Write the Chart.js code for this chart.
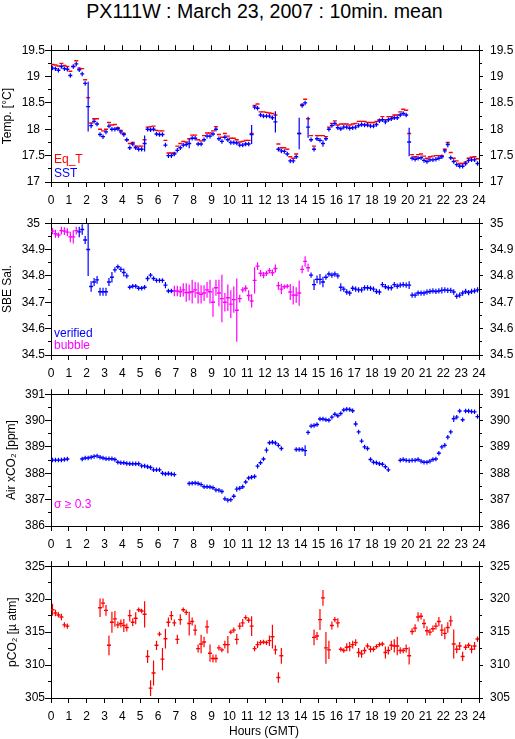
<!DOCTYPE html>
<html>
<head>
<meta charset="utf-8">
<script src="https://cdn.jsdelivr.net/npm/chart.js@4.4.0/dist/chart.umd.min.js"></script>
<style>
  body { margin: 0; background: #fff; width: 515px; height: 739px; position: relative; overflow: hidden;
         font-family: "Liberation Sans", Arial, sans-serif; }
  canvas { position: absolute; left: 0; }
  .txt { position: absolute; left: 0; white-space: nowrap; text-align: center; color: #000; }
</style>
</head>
<body>
<div class="txt" style="width:529px;top:2px;font-size:19.6px;line-height:19px;">PX111W : March 23, 2007 : 10min. mean</div>
<canvas id="cTemp" width="515" height="172" style="top:36px"></canvas>
<canvas id="cSal" width="515" height="172" style="top:209px"></canvas>
<canvas id="cAir" width="515" height="172" style="top:380px"></canvas>
<canvas id="cPco2" width="515" height="172" style="top:552px"></canvas>
<div class="txt" style="width:528px;top:725px;font-size:12px;line-height:12px;">Hours (GMT)</div>
<script>
// 10 minute means, point i covers hours i/6 .. (i+1)/6
const hours = Array.from({length: 144}, (_, i) => (i + 0.5) / 6);
const hourTicks = [0,1,2,3,4,5,6,7,8,9,10,11,12,13,14,15,16,17,18,19,20,21,22,23,24];

const tempTicks = [17, 17.5, 18, 18.5, 19, 19.5];
const salTicks = [34.5, 34.6, 34.7, 34.8, 34.9, 35];
const airTicks = [386, 387, 388, 389, 390, 391];
const pco2Ticks = [305, 310, 315, 320, 325];

const sst = [
  19.16,19.15,19.12,19.19,19.15,19.14, 19.02,19.19,19.24,19.13,19.05,18.87,
  18.43,18.07,18.15,18.10,17.90,17.86, 17.95,18.06,18.00,18.00,18.01,17.95,
  17.90,17.80,17.65,17.72,17.65,17.62, 17.62,17.73,18.00,17.99,18.00,17.91,
  17.90,17.90,17.70,17.50,17.50,17.53, 17.60,17.65,17.70,17.71,17.73,17.83,
  17.83,17.72,17.72,17.80,17.87,17.87, 17.91,18.00,17.82,17.77,17.85,17.80,
  17.75,17.75,17.74,17.70,17.70,17.72, 17.72,17.90,18.42,18.40,18.27,18.25,
  18.25,18.25,18.22,18.14,17.62,17.59, 17.58,17.53,17.40,17.40,17.48,17.92,
  18.45,18.50,18.04,17.80,17.62,17.82, 17.79,17.73,17.82,18.00,18.07,18.11,
  18.03,18.01,18.04,18.04,18.02,18.03, 18.04,18.07,18.09,18.08,18.08,18.06,
  18.06,18.09,18.16,18.18,18.14,18.18, 18.20,18.22,18.22,18.27,18.30,18.27,
  17.76,17.45,17.43,17.45,17.46,17.41, 17.39,17.42,17.42,17.43,17.45,17.48,
  17.59,17.71,17.46,17.39,17.33,17.30, 17.30,17.35,17.41,17.42,17.42,17.35
];
const sstErr = [
  0.015,0.02,0.02,0.015,0.02,0.015, 0.02,0.02,0.02,0.02,0.02,0.03,
  0.47,0.05,0.04,0.015,0.03,0.04, 0.015,0.03,0.015,0.015,0.015,0.015,
  0.03,0.04,0.015,0.015,0.015,0.015, 0.015,0.15,0.015,0.015,0.015,0.015,
  0.015,0.015,0.04,0.015,0.015,0.015, 0.015,0.015,0.015,0.015,0.09,0.015,
  0.015,0.015,0.03,0.03,0.015,0.015, 0.015,0.015,0.015,0.015,0.015,0.015,
  0.015,0.015,0.015,0.015,0.015,0.015, 0.015,0.18,0.03,0.03,0.015,0.015,
  0.015,0.015,0.015,0.2,0.015,0.015, 0.015,0.015,0.03,0.015,0.015,0.3,
  0.03,0.03,0.2,0.03,0.04,0.015, 0.015,0.06,0.015,0.015,0.015,0.015,
  0.015,0.015,0.015,0.015,0.015,0.015, 0.015,0.015,0.015,0.015,0.015,0.015,
  0.015,0.015,0.015,0.015,0.015,0.015, 0.015,0.015,0.015,0.015,0.015,0.015,
  0.27,0.015,0.015,0.015,0.015,0.015, 0.015,0.015,0.015,0.015,0.015,0.02,
  0.03,0.05,0.02,0.015,0.015,0.015, 0.015,0.015,0.015,0.015,0.015,0.04
];
const eqT = [
  19.23,19.22,19.20,19.25,19.21,19.19, 19.10,19.19,19.30,19.16,19.15,18.94,
  18.60,18.12,18.20,18.20,18.00,17.97, 18.00,18.13,18.08,18.09,18.03,17.98,
  17.92,17.80,17.73,17.75,17.68,17.68, 17.68,17.80,18.04,18.05,18.06,17.98,
  17.97,17.97,17.79,17.55,17.55,17.55, 17.68,17.73,17.77,17.76,17.82,17.89,
  17.89,17.80,17.78,17.88,17.93,17.93, 17.97,18.05,17.90,17.85,17.92,17.87,
  17.83,17.83,17.80,17.76,17.77,17.79, 17.79,17.92,18.45,18.48,18.33,18.33,
  18.32,18.31,18.30,18.27,17.72,17.65, 17.65,17.62,17.48,17.45,17.53,17.92,
  18.47,18.57,18.20,17.88,17.68,17.88, 17.88,17.88,17.86,18.04,18.11,18.16,
  18.08,18.10,18.10,18.10,18.08,18.10, 18.11,18.15,18.15,18.15,18.13,18.13,
  18.13,18.15,18.18,18.24,18.18,18.24, 18.24,18.27,18.27,18.33,18.38,18.36,
  17.92,17.52,17.48,17.52,17.53,17.49, 17.45,17.48,17.49,17.50,17.50,17.50,
  17.62,17.75,17.56,17.45,17.40,17.35, 17.35,17.38,17.45,17.47,17.48,17.44
];

const salinity = [
  34.970,34.960,34.955,34.972,34.970,34.966, 34.948,34.948,34.972,34.967,34.976,34.936,
  34.900,34.760,34.777,34.785,34.740,34.740, 34.740,34.777,34.795,34.823,34.835,34.825,
  34.813,34.800,34.757,34.761,34.761,34.753, 34.753,34.757,34.790,34.803,34.790,34.783,
  34.783,34.783,34.765,34.743,34.743,34.743, 34.743,34.740,34.747,34.737,34.737,34.740,
  34.747,34.735,34.730,34.735,34.747,34.740, 34.700,34.755,34.735,34.714,34.700,34.717,
  34.693,34.710,34.670,34.714,34.747,34.753, 34.726,34.705,34.783,34.837,34.810,34.803,
  34.810,34.820,34.812,34.828,34.763,34.750, 34.759,34.761,34.739,34.727,34.727,34.735,
  34.825,34.855,34.831,34.803,34.767,34.787, 34.787,34.777,34.795,34.807,34.803,34.807,
  34.800,34.757,34.750,34.739,34.735,34.753, 34.750,34.747,34.747,34.755,34.755,34.753,
  34.750,34.741,34.739,34.767,34.759,34.755, 34.755,34.767,34.761,34.765,34.767,34.765,
  34.765,34.727,34.727,34.735,34.735,34.735, 34.739,34.741,34.743,34.741,34.743,34.745,
  34.747,34.745,34.745,34.739,34.723,34.727, 34.735,34.741,34.737,34.741,34.743,34.747
];
const salinityErr = [
  0.012,0.015,0.01,0.015,0.015,0.015, 0.02,0.025,0.015,0.02,0.02,0.015,
  0.1,0.02,0.015,0.015,0.015,0.015, 0.015,0.015,0.02,0.01,0.008,0.01,
  0.015,0.01,0.008,0.008,0.008,0.008, 0.008,0.008,0.01,0.008,0.008,0.008,
  0.008,0.008,0.012,0.008,0.008,0.02, 0.02,0.02,0.025,0.035,0.03,0.045,
  0.03,0.04,0.035,0.03,0.03,0.045, 0.055,0.03,0.05,0.09,0.035,0.05,
  0.053,0.05,0.12,0.015,0.01,0.012, 0.02,0.025,0.05,0.015,0.012,0.012,
  0.01,0.01,0.012,0.015,0.015,0.02, 0.008,0.008,0.03,0.035,0.03,0.048,
  0.015,0.02,0.015,0.01,0.02,0.015, 0.02,0.02,0.01,0.01,0.01,0.01,
  0.01,0.015,0.01,0.01,0.01,0.01, 0.01,0.01,0.01,0.01,0.01,0.01,
  0.01,0.01,0.01,0.01,0.01,0.01, 0.01,0.01,0.01,0.01,0.01,0.01,
  0.015,0.01,0.01,0.01,0.01,0.01, 0.01,0.01,0.01,0.01,0.01,0.012,
  0.01,0.01,0.01,0.01,0.01,0.01, 0.01,0.01,0.01,0.01,0.01,0.01
];
// index ranges (inclusive) of salinity points flagged "bubble"
const bubbleRuns = [[0, 8], [41, 86]];

const airXco2 = [
  388.50,388.50,388.50,388.50,388.52,388.54, null,null,null,null,388.54,388.58,
  388.58,388.61,388.64,388.66,388.61,388.58, 388.55,388.55,388.55,388.52,388.42,388.40,
  388.40,388.37,388.36,388.36,388.36,388.36, 388.28,388.28,388.25,388.22,388.13,388.13,
  388.13,388.00,387.97,387.99,387.97,387.95, null,null,null,null,387.61,387.62,
  387.63,387.61,387.57,387.49,387.49,387.48, 387.45,387.37,387.36,387.31,387.03,386.98,
  387.00,387.13,387.40,387.43,387.49,387.67, 387.82,387.85,387.88,388.27,388.40,388.54,
  388.88,389.16,389.18,389.15,389.06,388.94, null,null,null,null,388.90,388.90,
  388.90,388.86,389.55,389.79,389.81,389.85, 390.06,390.06,390.03,390.01,390.13,390.24,
  390.18,390.27,390.40,390.43,390.42,390.37, 389.87,389.57,389.22,389.00,388.94,388.52,
  388.42,388.40,388.36,388.34,388.25,388.13, null,null,null,388.49,388.52,388.49,
  388.48,388.49,388.49,388.52,388.46,388.42, 388.42,388.46,388.52,388.54,388.76,389.00,
  389.06,389.37,389.57,390.07,390.13,390.36, 390.03,390.36,390.36,390.34,390.33,390.15
];
const airXco2Err = [
  0.02,0.02,0.02,0.02,0.02,0.02, 0,0,0,0,0.03,0.03,
  0.03,0.03,0.03,0.03,0.03,0.03, 0.03,0.03,0.03,0.03,0.03,0.03,
  0.03,0.03,0.03,0.03,0.03,0.03, 0.03,0.03,0.03,0.03,0.03,0.03,
  0.03,0.03,0.03,0.03,0.03,0.03, 0,0,0,0,0.03,0.03,
  0.03,0.03,0.03,0.03,0.03,0.03, 0.03,0.03,0.03,0.03,0.03,0.03,
  0.03,0.03,0.1,0.03,0.03,0.04, 0.04,0.03,0.03,0.05,0.03,0.03,
  0.1,0.05,0.03,0.03,0.03,0.03, 0,0,0,0,0.03,0.03,
  0.03,0.2,0.06,0.03,0.03,0.03, 0.03,0.03,0.03,0.03,0.03,0.03,
  0.03,0.03,0.07,0.03,0.06,0.06, 0.1,0.08,0.04,0.03,0.03,0.05,
  0.03,0.03,0.03,0.03,0.03,0.03, 0,0,0,0.03,0.03,0.03,
  0.03,0.03,0.03,0.03,0.03,0.03, 0.03,0.03,0.03,0.03,0.05,0.04,
  0.03,0.06,0.06,0.12,0.08,0.07, 0.03,0.06,0.03,0.03,0.03,0.07
];

const pco2 = [
  318.4,317.9,317.6,317.3,316.1,315.9, null,null,null,null,null,null,
  null,null,null,null,318.7,319.4, 318.3,313.0,316.5,317.0,316.1,316.3,
  316.0,315.7,317.5,316.5,317.1,318.4, 318.2,317.7,311.3,306.5,308.8,313.0,
  314.7,310.9,314.0,316.5,317.5,316.4, 313.9,316.9,318.4,318.0,316.3,316.6,
  315.3,312.5,313.2,313.5,315.8,311.8, 311.0,311.0,312.6,312.3,313.1,313.1,
  315.0,315.3,313.9,315.9,316.4,317.2, 316.8,315.9,312.5,313.1,313.4,313.5,
  313.4,313.7,314.3,312.3,308.1,311.4, null,null,null,null,null,null,
  null,null,null,null,314.2,314.4, 316.9,320.2,312.6,312.3,316.0,316.9,
  316.4,312.4,312.2,312.7,312.8,313.1, 313.4,311.9,311.7,312.2,312.9,312.4,
  312.4,312.8,313.1,313.2,311.9,312.2, 313.0,312.9,312.9,312.2,312.2,312.5,
  311.4,315.1,315.6,317.3,317.4,316.3, 315.2,315.0,315.5,315.9,316.6,315.3,
  314.8,315.7,316.7,313.2,312.4,312.9, 311.3,312.7,313.0,312.4,312.9,313.95
];
const pco2Err = [
  0.9,0.5,0.4,0.5,0.4,0.4, 0,0,0,0,0,0,
  0,0,0,0,1.4,0.7, 0.8,1.5,1.6,1.2,0.5,0.6,
  1.0,0.6,0.9,0.6,0.9,0.3, 0.3,2.0,1.0,1.2,1.9,0.7,
  0.3,1.7,1.5,0.7,0.7,0.5, 0.7,0.8,0.3,0.4,1.8,0.6,
  0.8,0.6,1.4,0.8,1.0,1.3, 0.6,0.6,0.4,0.3,0.6,1.3,
  0.3,0.4,0.8,0.5,0.6,0.3, 0.4,1.5,0.4,0.5,0.4,0.3,
  0.3,0.8,1.8,0.7,0.8,1.2, 0,0,0,0,0,0,
  0,0,0,0,1.2,0.6, 1.6,1.2,2.4,1.4,0.6,0.4,
  0.7,0.3,0.3,0.6,0.7,0.6, 0.5,0.7,0.6,0.5,0.4,0.5,
  0.4,0.3,0.3,0.3,0.9,0.6, 0.7,1.0,1.4,0.5,0.4,0.6,
  1.3,0.5,0.6,0.7,0.5,0.7, 0.7,0.5,0.5,0.5,0.7,0.9,
  0.9,0.8,0.8,2.2,0.6,0.6, 0.7,0.4,0.4,0.6,0.6,0.4
];

const BLUE = '#0000ff', RED = '#ff0000', MAGENTA = '#ff00ff';
const FONT = '"Liberation Sans", Arial, sans-serif';

const isBubble = i => bubbleRuns.some(([a, b]) => i >= a && i <= b);

function points(vals, errs, keep) {
  const out = [];
  vals.forEach((v, i) => {
    if (v === null || (keep && !keep(i))) return;
    out.push({x: hours[i], y: v, e: errs ? errs[i] : 0});
  });
  return out;
}

function series(data, color) {
  return {
    data, pointStyle: 'line', pointRadius: 2, pointHoverRadius: 2,
    pointBorderColor: color, pointBackgroundColor: color, pointBorderWidth: 1.4,
    borderColor: color, showLine: false
  };
}

// vertical error bars, drawn through the chart's scales
const errorBars = {
  id: 'errorBars',
  afterDatasetsDraw(chart) {
    const {ctx, chartArea: a, scales: {x, y}} = chart;
    ctx.save();
    ctx.beginPath();
    ctx.rect(a.left, a.top, a.right - a.left, a.bottom - a.top);
    ctx.clip();
    chart.data.datasets.forEach(ds => {
      if (!ds.errorBars) return;
      ctx.strokeStyle = ds.borderColor;
      ctx.lineWidth = 1.2;
      ds.data.forEach(p => {
        const px = x.getPixelForValue(p.x);
        let y1 = y.getPixelForValue(p.y + p.e);
        let y2 = y.getPixelForValue(p.y - p.e);
        if (y2 - y1 < 4.5) { const m = (y1 + y2) / 2; y1 = m - 2.25; y2 = m + 2.25; }
        ctx.beginPath();
        ctx.moveTo(px, y1);
        ctx.lineTo(px, y2);
        ctx.stroke();
      });
    });
    ctx.restore();
  }
};

function notes(items) {
  return {
    id: 'notes',
    afterDraw(chart) {
      const {ctx, chartArea: a} = chart;
      ctx.save();
      ctx.font = '12px ' + FONT;
      ctx.textBaseline = 'alphabetic';
      items.forEach(n => {
        ctx.fillStyle = n.color;
        ctx.fillText(n.text, a.left + 3, a.bottom + n.dy);
      });
      ctx.restore();
    }
  };
}

const isMajor = (v, majors) => majors.some(m => Math.abs(m - v) < 1e-6);

function withMinors(majors) {
  const all = [];
  majors.forEach((m, i) => {
    all.push(m);
    if (i < majors.length - 1) all.push((m + majors[i + 1]) / 2);
  });
  return all;
}

function yScales(majors, title, titlePad) {
  const all = withMinors(majors);
  const build = s => { s.ticks = all.map(v => ({value: v})); };
  const label = v => isMajor(v, majors) ? String(Math.round(v * 100) / 100) : '';
  const font = {family: FONT, size: 12};
  const border = {display: true, color: '#000', width: 1};
  const lo = majors[0], hi = majors[majors.length - 1];
  return {
    y: {
      type: 'linear', position: 'left', min: lo, max: hi,
      afterBuildTicks: build, afterFit: s => { s.width = 51; }, border,
      grid: {drawOnChartArea: false, color: '#000', tickLength: 6,
        tickBorderDash: c => (c.tick && !isMajor(c.tick.value, majors)) ? [0, 3, 3, 20] : []},
      ticks: {autoSkip: false, crossAlign: 'center', padding: 0, color: '#000', font, callback: label},
      title: {display: true, text: title, color: '#000', font, padding: {top: titlePad, bottom: 0}}
    },
    y2: {
      type: 'linear', position: 'right', min: lo, max: hi,
      afterBuildTicks: build, afterFit: s => { s.width = 36; }, border,
      grid: {drawOnChartArea: false, color: '#000', tickLength: 4,
        tickBorderDash: c => (c.tick && !isMajor(c.tick.value, majors)) ? [2, 20] : []},
      ticks: {autoSkip: false, padding: 7, color: '#000', font, callback: label}
    }
  };
}

function xScales() {
  const build = s => { s.ticks = hourTicks.map(v => ({value: v})); };
  const border = {display: true, color: '#000', width: 1};
  return {
    x: {
      type: 'linear', position: 'bottom', min: 0, max: 24,
      afterBuildTicks: build, afterFit: s => { s.height = 26; }, border,
      grid: {drawOnChartArea: false, color: '#000', tickLength: 5},
      ticks: {autoSkip: false, maxRotation: 0, minRotation: 0, padding: 6, color: '#000',
        font: {family: FONT, size: 12}, callback: v => String(v)}
    },
    x2: {
      type: 'linear', position: 'top', min: 0, max: 24,
      afterBuildTicks: build, afterFit: s => { s.height = 8; }, border,
      grid: {drawOnChartArea: false, color: '#000', tickLength: 5},
      ticks: {display: false}
    }
  };
}

function panel(id, datasets, majors, title, titlePad, labels) {
  return new Chart(document.getElementById(id), {
    type: 'scatter',
    data: {datasets},
    options: {
      responsive: false, animation: false, devicePixelRatio: 1, events: [],
      layout: {padding: 0},
      plugins: {legend: {display: false}, tooltip: {enabled: false}},
      scales: {...xScales(), ...yScales(majors, title, titlePad)}
    },
    plugins: [errorBars, notes(labels)]
  });
}

panel('cTemp', [
  {...series(points(sst, sstErr), BLUE), errorBars: true},
  series(points(eqT), RED)
], tempTicks, 'Temp. [°C]', 0, [
  {text: 'Eq_T', color: RED, dy: -19},
  {text: 'SST', color: BLUE, dy: -5}
]);

panel('cSal', [
  {...series(points(salinity, salinityErr, i => !isBubble(i)), BLUE), errorBars: true},
  {...series(points(salinity, salinityErr, isBubble), MAGENTA), errorBars: true}
], salTicks, 'SBE Sal.', 0, [
  {text: 'verified', color: BLUE, dy: -18},
  {text: 'bubble', color: MAGENTA, dy: -6}
]);

panel('cAir', [
  {...series(points(airXco2, airXco2Err), BLUE), errorBars: true}
], airTicks, 'Air xCO₂ [ppm]', 4, [
  {text: 'σ ≥ 0.3', color: MAGENTA, dy: -18}
]);

panel('cPco2', [
  {...series(points(pco2, pco2Err), RED), errorBars: true}
], pco2Ticks, 'pCO₂ [µ atm]', 5, []);
</script>
</body>
</html>
